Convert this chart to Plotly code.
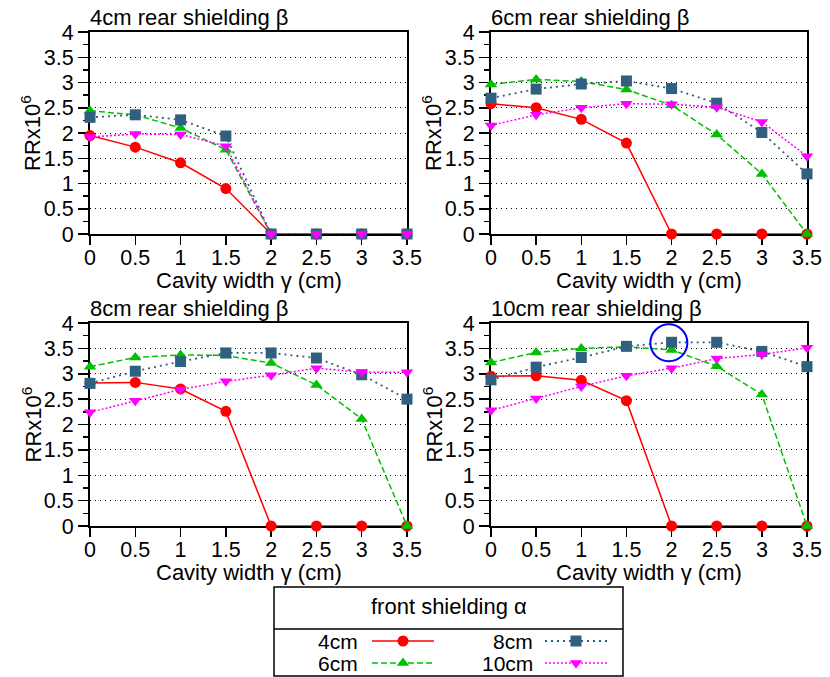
import plotly.graph_objects as go

# ---------------- data ----------------
gamma = [0, 0.5, 1, 1.5, 2, 2.5, 3, 3.5]
x_ticks = [0, 0.5, 1, 1.5, 2, 2.5, 3, 3.5]
y_ticks = [0, 0.5, 1, 1.5, 2, 2.5, 3, 3.5, 4]
front_labels = ["4cm", "6cm", "8cm", "10cm"]
rear_titles = ["4cm rear shielding β", "6cm rear shielding β",
               "8cm rear shielding β", "10cm rear shielding β"]

# rear 4cm
r4_f4 = [1.95, 1.72, 1.41, 0.90, 0, 0, 0, 0]
r4_f6 = [2.44, 2.36, 2.10, 1.67, 0, 0, 0, 0]
r4_f8 = [2.31, 2.36, 2.26, 1.94, 0, 0, 0, 0]
r4_f10 = [1.92, 1.98, 1.97, 1.74, 0, 0, 0, 0]
# rear 6cm
r6_f4 = [2.58, 2.50, 2.27, 1.80, 0, 0, 0, 0]
r6_f6 = [2.96, 3.06, 3.02, 2.86, 2.55, 1.97, 1.19, 0]
r6_f8 = [2.69, 2.87, 2.97, 3.03, 2.88, 2.59, 2.01, 1.19]
r6_f10 = [2.15, 2.36, 2.50, 2.58, 2.57, 2.51, 2.22, 1.54]
# rear 8cm
r8_f4 = [2.82, 2.83, 2.70, 2.26, 0, 0, 0, 0]
r8_f6 = [3.14, 3.32, 3.37, 3.36, 3.21, 2.78, 2.11, 0]
r8_f8 = [2.81, 3.05, 3.24, 3.41, 3.41, 3.31, 2.98, 2.50]
r8_f10 = [2.24, 2.47, 2.69, 2.85, 2.97, 3.11, 3.03, 3.03]
# rear 10cm
r10_f4 = [2.95, 2.96, 2.87, 2.47, 0, 0, 0, 0]
r10_f6 = [3.22, 3.42, 3.50, 3.53, 3.47, 3.15, 2.59, 0]
r10_f8 = [2.88, 3.13, 3.32, 3.54, 3.62, 3.62, 3.44, 3.14]
r10_f10 = [2.28, 2.51, 2.75, 2.96, 3.11, 3.30, 3.38, 3.51]

panels_data = [
    [r4_f4, r4_f6, r4_f8, r4_f10],
    [r6_f4, r6_f6, r6_f8, r6_f10],
    [r8_f4, r8_f6, r8_f8, r8_f10],
    [r10_f4, r10_f6, r10_f8, r10_f10],
]

# highlighted point (rear 10cm, front 8cm, gamma=2)
highlight_x = 1.97
highlight_y = 3.61

# ---------------- styles ----------------
W, H = 830, 677
FONT = "Liberation Sans, Arial, Helvetica, sans-serif"
colors = ["#ff0000", "#00c000", "#306080", "#ff00ff"]
symbols = ["circle", "triangle-up", "square", "triangle-down"]
dashes = ["solid", "6px,3px", "2px,4px", "2px,2px"]
msizes = [11, 11, 11, 11]
lwidths = [1.5, 1.5, 1.8, 1.5]

def fx(p):
    return p / W

def fy(p):
    return 1 - p / H

# panel pixel boxes: (left, right, top, bottom)
boxes = [(90, 407, 32, 234), (491, 807, 32, 234),
         (90, 407, 323, 526), (491, 807, 323, 526)]

fig = go.Figure()
annotations = []
shapes = []

for i, (box, series) in enumerate(zip(boxes, panels_data)):
    n = i + 1
    xa = "x" if n == 1 else f"x{n}"
    ya = "y" if n == 1 else f"y{n}"
    for j, vals in enumerate(series):
        fig.add_trace(go.Scatter(
            x=gamma, y=vals, xaxis=xa, yaxis=ya,
            mode="lines+markers", cliponaxis=False, showlegend=False,
            name=front_labels[j],
            line=dict(color=colors[j], width=lwidths[j], dash=dashes[j]),
            marker=dict(symbol=symbols[j], size=msizes[j], color=colors[j],
                        line=dict(width=0)),
        ))
    l, r, t, b = box
    axx = dict(domain=[fx(l), fx(r)], range=[0, 3.5], anchor=ya,
               tickmode="array", tickvals=x_ticks,
               ticks="outside", ticklen=9, tickwidth=1.5, tickcolor="black",
               showline=True, linecolor="black", linewidth=2, mirror=True,
               showgrid=False, zeroline=False, layer="below traces",
               automargin=False, ticklabelstandoff=-6,
               tickfont=dict(family=FONT, size=21.5, color="black"),
               fixedrange=True)
    axy = dict(domain=[fy(b), fy(t)], range=[0, 4], anchor=xa,
               tickmode="array", tickvals=y_ticks,
               ticks="outside", ticklen=10, tickwidth=1.5, tickcolor="black",
               minor=dict(dtick=0.25, tick0=0, ticks="outside", ticklen=5,
                          tickwidth=1.5, tickcolor="black", showgrid=False),
               showline=True, linecolor="black", linewidth=2, mirror=True,
               showgrid=True, gridcolor="black", gridwidth=1, griddash="1px,4px",
               zeroline=False, layer="below traces", automargin=False,
               tickfont=dict(family=FONT, size=21.5, color="black"),
               fixedrange=True)
    fig.update_layout(**{("xaxis" if n == 1 else f"xaxis{n}"): axx,
                         ("yaxis" if n == 1 else f"yaxis{n}"): axy})
    # panel title
    annotations.append(dict(text=rear_titles[i], x=fx(l - 2), y=fy(t - 14),
                            xref="paper", yref="paper", xanchor="left",
                            yanchor="middle", showarrow=False,
                            font=dict(family=FONT, size=22, color="black")))
    # x axis title
    annotations.append(dict(text="Cavity width γ (cm)", x=fx((l + r) / 2),
                            y=fy(b + 46), xref="paper", yref="paper",
                            xanchor="center", yanchor="middle", showarrow=False,
                            font=dict(family=FONT, size=22, color="black")))
    # y axis title
    annotations.append(dict(text="RRx10<sup>6</sup>", x=fx(l - 59),
                            y=fy((t + b) / 2), xref="paper", yref="paper",
                            xanchor="center", yanchor="middle", textangle=-90,
                            showarrow=False,
                            font=dict(family=FONT, size=22, color="black")))

# highlight circle in panel 4
shapes.append(dict(type="circle", xref="x4", yref="y4",
                   x0=highlight_x - 0.205, x1=highlight_x + 0.205,
                   y0=highlight_y - 0.365, y1=highlight_y + 0.365,
                   line=dict(color="#0000ff", width=2)))

# ---------------- manual legend ----------------
LEG_L, LEG_R, LEG_T, LEG_B, LEG_DIV = 274, 623, 587, 676, 629
shapes.append(dict(type="rect", xref="paper", yref="paper",
                   x0=fx(LEG_L), x1=fx(LEG_R), y0=fy(LEG_B), y1=fy(LEG_T),
                   line=dict(color="black", width=1.5), fillcolor="rgba(0,0,0,0)"))
shapes.append(dict(type="line", xref="paper", yref="paper",
                   x0=fx(LEG_L), x1=fx(LEG_R), y0=fy(LEG_DIV), y1=fy(LEG_DIV),
                   line=dict(color="black", width=1.5)))
annotations.append(dict(text="front shielding α", x=fx((LEG_L + LEG_R) / 2),
                        y=fy(606), xref="paper", yref="paper",
                        xanchor="center", yanchor="middle", showarrow=False,
                        font=dict(family=FONT, size=22, color="black")))

# legend entry positions (pixel): text right edge, sample start/end, row y
entry_pos = [(359, 372, 434, 641), (359, 372, 434, 663),
             (534, 545, 607, 641), (534, 545, 607, 663)]
fig.update_layout(
    xaxis5=dict(domain=[fx(LEG_L), fx(LEG_R)], range=[LEG_L, LEG_R],
                visible=False, fixedrange=True, anchor="y5", automargin=False),
    yaxis5=dict(domain=[fy(LEG_B), fy(LEG_DIV)], range=[LEG_B, LEG_DIV],
                visible=False, fixedrange=True, anchor="x5", automargin=False),
)
for j, (tx, sx0, sx1, ry) in enumerate(entry_pos):
    annotations.append(dict(text=front_labels[j], x=fx(tx), y=fy(ry),
                            xref="paper", yref="paper", xanchor="right",
                            yanchor="middle", showarrow=False, borderpad=0,
                            font=dict(family=FONT, size=21, color="black")))
    fig.add_trace(go.Scatter(
        x=[sx0, sx1], y=[ry, ry], xaxis="x5", yaxis="y5", mode="lines",
        showlegend=False, hoverinfo="skip", cliponaxis=False,
        line=dict(color=colors[j], width=lwidths[j], dash=dashes[j])))
    fig.add_trace(go.Scatter(
        x=[(sx0 + sx1) / 2], y=[ry], xaxis="x5", yaxis="y5", mode="markers",
        showlegend=False, hoverinfo="skip", cliponaxis=False,
        marker=dict(symbol=symbols[j], size=msizes[j], color=colors[j],
                    line=dict(width=0))))

fig.update_layout(
    width=W, height=H,
    margin=dict(l=0, r=0, t=0, b=0, pad=0, autoexpand=False),
    paper_bgcolor="white", plot_bgcolor="rgba(0,0,0,0)",
    annotations=annotations, shapes=shapes, showlegend=False,
    font=dict(family=FONT, color="black"),
)

fig.write_html("out.html",
               config={"displayModeBar": False, "staticPlot": True},
               post_script="document.body.style.margin='0px';"
                           "document.body.style.overflow='hidden';")
